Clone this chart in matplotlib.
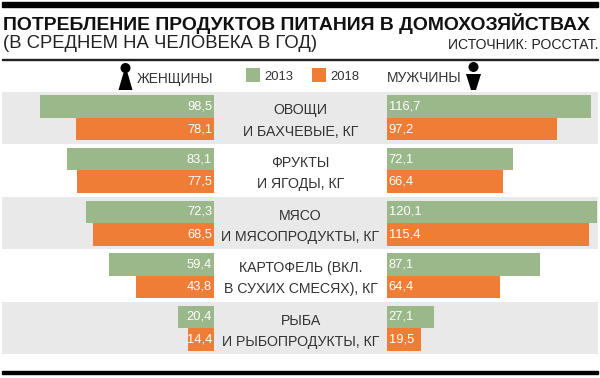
import matplotlib
matplotlib.use("Agg")
import matplotlib.pyplot as plt
from matplotlib.patches import Circle, Polygon, Rectangle
import numpy as np

plt.rcParams["font.family"] = ["Liberation Sans", "DejaVu Sans"]

categories = ["ОВОЩИ\nИ БАХЧЕВЫЕ, КГ", "ФРУКТЫ\nИ ЯГОДЫ, КГ", "МЯСО\nИ МЯСОПРОДУКТЫ, КГ",
              "КАРТОФЕЛЬ (ВКЛ.\nВ СУХИХ СМЕСЯХ), КГ", "РЫБА\nИ РЫБОПРОДУКТЫ, КГ"]
women_2013 = [98.5, 83.1, 72.3, 59.4, 20.4]
women_2018 = [78.1, 77.5, 68.5, 43.8, 14.4]
men_2013 = [116.7, 72.1, 120.1, 87.1, 27.1]
men_2018 = [97.2, 66.4, 115.4, 64.4, 19.5]

GREEN = "#9bb88a"
ORANGE = "#ef7d35"
GREY = "#e9e9e9"
W, H = 600, 378
PX_WOMEN = 1.76
PX_MEN = 1.752
TOP = 91.5
PITCH = 52.6
BAR_H = 22.5


def fmt(v):
    return f"{v:.1f}".replace(".", ",")


fig = plt.figure(figsize=(W / 100, H / 100), dpi=100, facecolor="white")

# overlay in pixel coordinates for frame, bands, text
bg = fig.add_axes([0, 0, 1, 1])
bg.set_xlim(0, W)
bg.set_ylim(H, 0)
bg.axis("off")

bg.add_patch(Rectangle((2, 2), 596, 4.5, color="black"))
bg.add_patch(Rectangle((2, 58.6), 596, 1, color="#222222"))
bg.add_patch(Rectangle((2, 371), 596, 2.5, color="black"))

for i in range(0, 5, 2):
    bg.add_patch(Rectangle((2, TOP + i * PITCH), 596, PITCH - 0.6, color=GREY, lw=0))

bg.text(3, 23, "ПОТРЕБЛЕНИЕ ПРОДУКТОВ ПИТАНИЯ В ДОМОХОЗЯЙСТВАХ", fontsize=13.95,
        fontweight="bold", color="#111111", va="center", ha="left")
bg.text(3, 43, "(В СРЕДНЕМ НА ЧЕЛОВЕКА В ГОД)", fontsize=13.3, color="#222222", va="center", ha="left")
bg.text(598, 45, "ИСТОЧНИК: РОССТАТ.", fontsize=10.1, color="#222222", va="center", ha="right")

bg.text(213, 78.5, "ЖЕНЩИНЫ", fontsize=9.9, color="#333333", va="center", ha="right")
bg.text(387, 78.5, "МУЖЧИНЫ", fontsize=10, color="#333333", va="center", ha="left")
bg.text(264, 76.5, "2013", fontsize=9.4, color="#333333", va="center", ha="left")
bg.text(330, 76.5, "2018", fontsize=9.4, color="#333333", va="center", ha="left")
bg.add_patch(Rectangle((246, 68), 14, 14, color=GREEN, lw=0))
bg.add_patch(Rectangle((312, 68), 14, 14, color=ORANGE, lw=0))

# female / male figures
bg.add_patch(Circle((125.5, 68), 5, color="black", lw=0))
bg.add_patch(Polygon([(124, 71), (127, 71), (132.5, 90), (118.5, 90)], color="black", lw=0))
bg.add_patch(Circle((473.5, 67), 5, color="black", lw=0))
bg.add_patch(Polygon([(466, 74), (481, 74), (476, 90), (471, 90)], color="black", lw=0))

for i, c in enumerate(categories):
    bg.text(300.5, TOP + i * PITCH + 29.5, c, fontsize=10.2, color="#333333",
            va="center", ha="center", linespacing=1.65)

# bars: y axis counts rows, x axis is kg
y = np.arange(len(categories))
span_y = (H - TOP) / PITCH
offset = (BAR_H / PITCH) / 2
left_w = 213.5
right_x = 387

axL = fig.add_axes([0, 0, left_w / W, 1])
axL.set_xlim(left_w / PX_WOMEN, 0)
axR = fig.add_axes([right_x / W, 0, (W - right_x) / W, 1])
axR.set_xlim(0, (W - right_x) / PX_MEN)

for ax, s13, s18, side in ((axL, women_2013, women_2018, "L"), (axR, men_2013, men_2018, "R")):
    ax.patch.set_alpha(0)
    ax.axis("off")
    ax.set_ylim(span_y - 0.5, -TOP / PITCH - 0.5)
    ax.barh(y - offset, s13, height=BAR_H / PITCH, color=GREEN, lw=0)
    ax.barh(y + offset, s18, height=BAR_H / PITCH, color=ORANGE, lw=0)
    for yy, a, b in zip(y, s13, s18):
        for pos, v in ((yy - offset, a), (yy + offset, b)):
            ax.annotate(fmt(v), (0, pos), xytext=(-1.0 if side == "L" else 1.2, 0),
                        textcoords="offset points", color="white", fontsize=9.3,
                        va="center", ha="right" if side == "L" else "left")

fig.savefig("out.png", dpi=100)
